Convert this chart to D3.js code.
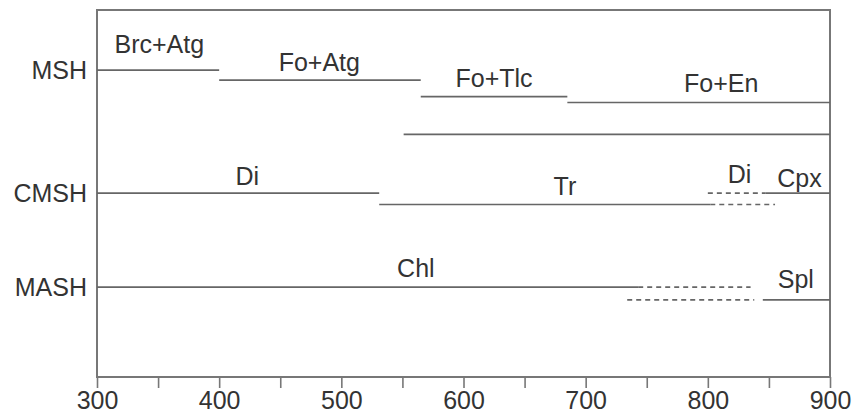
<!DOCTYPE html>
<html lang="en">
<head>
  <meta charset="UTF-8">
  <title>Phase stability</title>
  <script src="https://cdn.jsdelivr.net/npm/d3@7/dist/d3.min.js"></script>
  <style>
    body { margin: 0; background: #fff; }
    text { font-family: "Liberation Sans", Arial, sans-serif; fill: #333; }
  </style>
</head>
<body>
  <div id="wrapper"></div>
  <script>
    // systems on the y axis and their level (0-100 of plot height)
    const systems = ["MSH", "CMSH", "MASH"]
    const systemLevels = [83.6, 50.1, 24.5]

    // x ticks (temperature)
    const majorTicks = [300, 400, 500, 600, 700, 800, 900]
    const minorTicks = [350, 450, 550, 650, 750, 850]

    // stability segments: start, end, level, dashed
    const segStart = [300, 400, 565, 685, 551, 300, 531, 802, 800, 847, 300, 743, 734, 845]
    const segEnd   = [400, 565, 685, 900, 900, 531, 802, 855, 847, 900, 743, 835, 838, 900]
    const segLevel = [83.6, 80.9, 76.4, 74.8, 66.1, 50.1, 47.0, 47.0, 50.1, 50.1, 24.5, 24.5, 21.0, 21.0]
    const segDashed = [false, false, false, false, false, false, false, true, true, false, false, true, true, false]

    // phase labels: text, temperature, level of baseline
    const phaseNames = ["Brc+Atg", "Fo+Atg", "Fo+Tlc", "Fo+En", "Di", "Tr", "Di", "Cpx", "Chl", "Spl"]
    const phaseT     = [351, 482, 625, 811, 423, 683, 826, 875, 561, 872]
    const phaseLevel = [88.3, 83.4, 79.0, 77.7, 52.3, 49.6, 52.9, 51.8, 27.2, 24.3]

    const dimensions = {
      width: 852,
      height: 414,
      margin: { top: 10, right: 22, bottom: 37, left: 97 }
    }
    dimensions.boundedWidth = dimensions.width - dimensions.margin.left - dimensions.margin.right
    dimensions.boundedHeight = dimensions.height - dimensions.margin.top - dimensions.margin.bottom

    const svg = d3.select("#wrapper").append("svg")
      .attr("width", dimensions.width)
      .attr("height", dimensions.height)
    const bounds = svg.append("g")
      .attr("transform", `translate(${dimensions.margin.left},${dimensions.margin.top})`)

    const xScale = d3.scaleLinear()
      .domain([300, 900])
      .range([0, dimensions.boundedWidth])
    const yScale = d3.scaleLinear()
      .domain([0, 100])
      .range([dimensions.boundedHeight, 0])

    const lineColor = "#666"

    // frame
    bounds.append("rect")
      .attr("x", 0).attr("y", 0)
      .attr("width", dimensions.boundedWidth)
      .attr("height", dimensions.boundedHeight)
      .attr("fill", "none")
      .attr("stroke", "#777")
      .attr("stroke-width", 2)

    // x axis
    const xAxis = d3.axisBottom(xScale)
      .tickValues(majorTicks.concat(minorTicks))
      .tickSize(11)
      .tickPadding(3)
      .tickFormat(d => majorTicks.includes(d) ? d : "")
    const xAxisGroup = bounds.append("g")
      .attr("transform", `translate(0,${dimensions.boundedHeight})`)
      .call(xAxis)
    xAxisGroup.select(".domain").remove()
    xAxisGroup.selectAll("line").attr("stroke", "#777").attr("stroke-width", 1.6)
    xAxisGroup.selectAll("text")
      .style("font-family", '"Liberation Sans", Arial, sans-serif')
      .style("font-size", "25px")
      .attr("fill", "#333")

    // y labels
    const yAxis = d3.axisLeft(yScale)
      .tickValues(systemLevels)
      .tickSize(0)
      .tickPadding(10)
      .tickFormat((d, i) => systems[i])
    const yAxisGroup = bounds.append("g").call(yAxis)
    yAxisGroup.select(".domain").remove()
    yAxisGroup.selectAll("text")
      .style("font-family", '"Liberation Sans", Arial, sans-serif')
      .style("font-size", "25px")
      .attr("fill", "#333")

    // segments
    bounds.append("g").selectAll("line")
      .data(d3.range(segStart.length))
      .join("line")
      .attr("x1", i => xScale(segStart[i]))
      .attr("x2", i => xScale(segEnd[i]))
      .attr("y1", i => yScale(segLevel[i]))
      .attr("y2", i => yScale(segLevel[i]))
      .attr("stroke", lineColor)
      .attr("stroke-width", 1.7)
      .attr("stroke-dasharray", i => segDashed[i] ? "5,4" : null)

    // phase labels
    bounds.append("g").selectAll("text")
      .data(d3.range(phaseNames.length))
      .join("text")
      .attr("x", i => xScale(phaseT[i]))
      .attr("y", i => yScale(phaseLevel[i]))
      .attr("text-anchor", "middle")
      .style("font-size", "25px")
      .text(i => phaseNames[i])
  </script>
</body>
</html>
